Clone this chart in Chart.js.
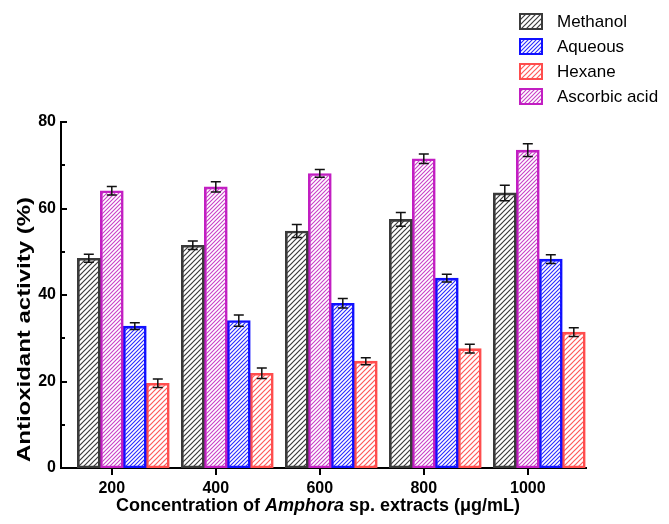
<!DOCTYPE html>
<html lang="en">
<head>
<meta charset="UTF-8">
<title>Antioxidant activity of Amphora sp. extracts</title>
<script src="https://cdn.jsdelivr.net/npm/chart.js"></script>
<style>
    body {
        margin: 0;
        background: #fff;
    }
</style>
</head>
<body>
<canvas id="chart" width="669" height="524"></canvas>
<script>
// extract concentrations (µg/mL), also the x tick labels
const concentrations = [200, 400, 600, 800, 1000];

// mean antioxidant activity (%)
const methanol = [48.5, 51.5, 54.8, 57.5, 63.6];
const ascorbic = [64.1, 65.0, 68.1, 71.5, 73.5];
const aqueous  = [32.8, 34.1, 38.1, 43.9, 48.3];
const hexane   = [19.6, 21.9, 24.7, 27.6, 31.4];

// error bars (+/-)
const methanolErr = [0.9, 1.0, 1.5, 1.6, 1.8];
const ascorbicErr = [1.0, 1.2, 0.9, 1.1, 1.5];
const aqueousErr  = [0.8, 1.3, 1.1, 0.9, 1.0];
const hexaneErr   = [1.0, 1.2, 0.8, 1.0, 1.0];

const yTicks = [0, 20, 40, 60, 80];
const yMinorStep = 10;
const legendOrder = ['Methanol', 'Aqueous', 'Hexane', 'Ascorbic acid'];

const FONT = '"Liberation Sans", Arial, sans-serif';
Chart.defaults.font.family = FONT;
Chart.defaults.color = '#000';

// diagonal hatch fill
function hatch(color, size, lw) {
    const c = document.createElement('canvas');
    c.width = size;
    c.height = size;
    const g = c.getContext('2d');
    g.strokeStyle = color;
    g.lineWidth = lw;
    g.beginPath();
    g.moveTo(-1, size + 1); g.lineTo(size + 1, -1);
    g.moveTo(-1, 1); g.lineTo(1, -1);
    g.moveTo(size - 1, size + 1); g.lineTo(size + 1, size - 1);
    g.stroke();
    return g.createPattern(c, 'repeat');
}

function points(values) {
    return concentrations.map((c, i) => ({ x: c, y: values[i] }));
}

// plot box in px, and px per 200 units between groups
const plotLeft = 61, plotRight = 586, plotTop = 122, plotBottom = 468;
const pxPerUnit = 104 / 200;
const barW = 23;
const xMin = 200 - (123.3 - plotLeft) / pxPerUnit;
const xMax = xMin + (plotRight - plotLeft) / pxPerUnit;
// tick axis shifted so ticks sit under the 2nd bar of each group
const shift = (barW / 2) / pxPerUnit;

const datasets = [
    { label: 'Methanol', data: points(methanol), err: methanolErr,
      borderColor: '#3a3a3a', backgroundColor: hatch('#3c3c3c', 5, 1.2) },
    { label: 'Ascorbic acid', data: points(ascorbic), err: ascorbicErr,
      borderColor: '#c21ec2', backgroundColor: hatch('#c840c8', 4, 1.1) },
    { label: 'Aqueous', data: points(aqueous), err: aqueousErr,
      borderColor: '#1010ff', backgroundColor: hatch('#2a2aff', 4, 1.1) },
    { label: 'Hexane', data: points(hexane), err: hexaneErr,
      borderColor: '#ff4d4d', backgroundColor: hatch('#ff5a5a', 5, 1.2) }
];
datasets.forEach(d => {
    d.borderWidth = 2;
    d.borderSkipped = false;
    d.barThickness = barW;
});

const errorBars = {
    id: 'errorBars',
    afterDatasetsDraw(chart) {
        const ctx = chart.ctx, y = chart.scales.y;
        ctx.save();
        ctx.strokeStyle = '#111';
        ctx.lineWidth = 1.5;
        chart.data.datasets.forEach((ds, di) => {
            chart.getDatasetMeta(di).data.forEach((bar, i) => {
                const v = ds.data[i].y, e = ds.err[i];
                const t = y.getPixelForValue(v + e), b = y.getPixelForValue(v - e);
                ctx.beginPath();
                ctx.moveTo(bar.x, t); ctx.lineTo(bar.x, b);
                ctx.moveTo(bar.x - 5, t); ctx.lineTo(bar.x + 5, t);
                ctx.moveTo(bar.x - 5, b); ctx.lineTo(bar.x + 5, b);
                ctx.stroke();
            });
        });
        ctx.restore();
    }
};

// inward y ticks, axis titles, side legend
const extras = {
    id: 'extras',
    afterDraw(chart) {
        const ctx = chart.ctx, y = chart.scales.y;
        const x0 = chart.chartArea.left;
        ctx.save();
        ctx.strokeStyle = '#000';
        ctx.lineWidth = 2;
        for (let v = yTicks[0]; v <= yTicks[yTicks.length - 1]; v += yMinorStep) {
            const py = Math.round(y.getPixelForValue(v));
            const len = yTicks.includes(v) ? 6 : 4;
            ctx.beginPath();
            ctx.moveTo(x0, py);
            ctx.lineTo(x0 + len, py);
            ctx.stroke();
        }

        ctx.fillStyle = '#000';
        ctx.textBaseline = 'middle';
        ctx.textAlign = 'left';

        // y title, stretched along its length like the original figure
        const yTitle = 'Antioxidant activity (%)';
        ctx.font = 'bold 18px ' + FONT;
        const yw = ctx.measureText(yTitle).width;
        ctx.save();
        ctx.translate(25, 462);
        ctx.rotate(-Math.PI / 2);
        ctx.scale(265 / yw, 1);
        ctx.fillText(yTitle, 0, 0);
        ctx.restore();

        // x title
        const parts = [
            ['bold 18px ' + FONT, 'Concentration of '],
            ['italic bold 18px ' + FONT, 'Amphora'],
            ['bold 18px ' + FONT, ' sp. extracts (\u03bcg/mL)']
        ];
        let total = 0;
        parts.forEach(p => { ctx.font = p[0]; total += ctx.measureText(p[1]).width; });
        let tx = 318 - total / 2;
        parts.forEach(p => {
            ctx.font = p[0];
            ctx.fillText(p[1], tx, 506);
            tx += ctx.measureText(p[1]).width;
        });

        // legend
        ctx.font = '17px ' + FONT;
        legendOrder.forEach((name, i) => {
            const ds = chart.data.datasets.find(d => d.label === name);
            const top = 13 + i * 25;
            ctx.fillStyle = ds.backgroundColor;
            ctx.fillRect(519, top, 24, 17);
            ctx.strokeStyle = ds.borderColor;
            ctx.lineWidth = 2;
            ctx.strokeRect(520, top + 1, 22, 15);
            ctx.fillStyle = '#000';
            ctx.fillText(name, 557, top + 9);
        });
        ctx.restore();
    }
};

new Chart(document.getElementById('chart'), {
    type: 'bar',
    data: { datasets: datasets },
    options: {
        responsive: false,
        animation: false,
        devicePixelRatio: 1,
        layout: {
            padding: { left: 0, top: plotTop, right: 669 - plotRight, bottom: 0 }
        },
        plugins: {
            legend: { display: false },
            tooltip: { enabled: false }
        },
        scales: {
            x: {
                type: 'linear',
                min: xMin,
                max: xMax,
                offset: false,
                grid: { offset: false },
                display: false
            },
            xt: {
                type: 'linear',
                position: 'bottom',
                min: xMin + shift,
                max: xMax + shift,
                offset: false,
                afterBuildTicks: s => { s.ticks = concentrations.map(v => ({ value: v })); },
                afterFit: s => { s.height = 524 - plotBottom; },
                ticks: {
                    callback: v => String(v),
                    font: { size: 16, weight: 'bold' },
                    padding: 4,
                    maxRotation: 0
                },
                grid: {
                    offset: false,
                    drawOnChartArea: false,
                    drawTicks: true,
                    tickLength: 7,
                    tickWidth: 2,
                    tickColor: '#000',
                    color: '#000',
                    lineWidth: 2
                },
                border: { display: true, color: '#000', width: 2 }
            },
            y: {
                min: yTicks[0],
                max: yTicks[yTicks.length - 1],
                afterBuildTicks: s => { s.ticks = yTicks.map(v => ({ value: v })); },
                afterFit: s => { s.width = plotLeft; },
                ticks: {
                    font: { size: 16, weight: 'bold' },
                    padding: 5
                },
                grid: { display: false, drawTicks: false },
                border: { display: true, color: '#000', width: 2 }
            }
        }
    },
    plugins: [errorBars, extras]
});
</script>
</body>
</html>
